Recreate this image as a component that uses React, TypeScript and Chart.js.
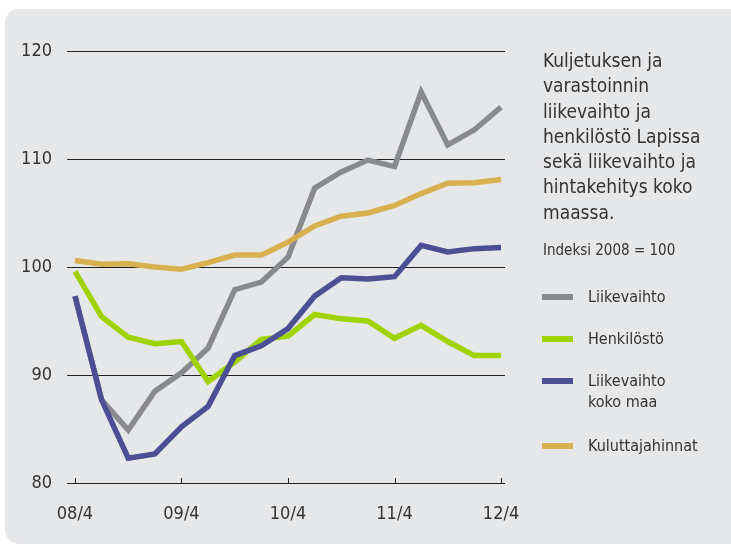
import React, { useEffect, useRef } from "react";
import { Chart, registerables } from "chart.js";

Chart.register(...registerables);

const quarters = [
  "08/4", "09/1", "09/2", "09/3", "09/4", "10/1", "10/2", "10/3", "10/4",
  "11/1", "11/2", "11/3", "11/4", "12/1", "12/2", "12/3", "12/4",
];
const xTickIndexes = [0, 4, 8, 12, 16];
const yTicks = [80, 90, 100, 110, 120];

const liikevaihto = [97.3, 87.7, 84.9, 88.5, 90.2, 92.5, 97.9, 98.6, 100.9, 107.3, 108.8, 109.9, 109.3, 116.2, 111.3, 112.7, 114.8];
const henkilosto = [99.6, 95.4, 93.5, 92.9, 93.1, 89.4, 91.2, 93.3, 93.6, 95.6, 95.2, 95.0, 93.4, 94.6, 93.1, 91.8, 91.8];
const liikevaihtoKokoMaa = [97.3, 87.7, 82.3, 82.7, 85.2, 87.1, 91.8, 92.7, 94.3, 97.3, 99.0, 98.9, 99.1, 102.0, 101.4, 101.7, 101.8];
const kuluttajahinnat = [100.6, 100.25, 100.3, 100.0, 99.8, 100.4, 101.1, 101.1, 102.3, 103.8, 104.7, 105.0, 105.7, 106.8, 107.75, 107.8, 108.1];

const titleLines = [
  "Kuljetuksen ja",
  "varastoinnin",
  "liikevaihto ja",
  "henkilöstö Lapissa",
  "sekä liikevaihto ja",
  "hintakehitys koko",
  "maassa.",
];
const subtitle = "Indeksi 2008 = 100";

const series = [
  { label: ["Liikevaihto"], data: liikevaihto, color: "#888a8d", order: 3 },
  { label: ["Henkilöstö"], data: henkilosto, color: "#9fd300", order: 2 },
  { label: ["Liikevaihto", "koko maa"], data: liikevaihtoKokoMaa, color: "#4b4f94", order: 1 },
  { label: ["Kuluttajahinnat"], data: kuluttajahinnat, color: "#d8b14f", order: 0 },
];

const FONT = "'Liberation Sans Narrow', 'DejaVu Sans Condensed', 'Roboto Condensed', sans-serif";
const TEXT = "#333333";

const tickMarksPlugin = {
  id: "tickMarks",
  afterDraw(chart: any) {
    const { ctx, scales, chartArea } = chart;
    const x = scales.x;
    ctx.save();
    ctx.strokeStyle = "#222222";
    ctx.lineWidth = 1;
    xTickIndexes.forEach((i) => {
      const px = Math.round(x.getPixelForValue(i)) + 0.5;
      ctx.beginPath();
      ctx.moveTo(px, chartArea.bottom);
      ctx.lineTo(px, chartArea.bottom - 5);
      ctx.stroke();
    });
    ctx.restore();
  },
};

function ChartCanvas() {
  const ref = useRef<HTMLCanvasElement | null>(null);
  useEffect(() => {
    if (!ref.current) return;
    const chart = new Chart(ref.current, {
      type: "line",
      data: {
        datasets: series.map((s) => ({
          label: s.label.join(" "),
          data: s.data.map((v, i) => ({ x: i, y: v })),
          borderColor: s.color,
          backgroundColor: s.color,
          borderWidth: 5.5,
          pointRadius: 0,
          tension: 0,
          borderJoinStyle: "miter" as const,
          borderCapStyle: "butt" as const,
          order: s.order,
        })),
      },
      options: {
        animation: false,
        responsive: false,
        maintainAspectRatio: false,
        layout: { padding: { top: 51, right: 226, bottom: 0, left: 0 } },
        plugins: { legend: { display: false }, tooltip: { enabled: false }, title: { display: false } },
        scales: {
          x: {
            type: "linear",
            min: -0.3,
            max: 16.15,
            afterBuildTicks: (scale: any) => {
              scale.ticks = xTickIndexes.map((v) => ({ value: v }));
            },
            afterFit: (scale: any) => {
              scale.height = 65;
            },
            grid: { display: false },
            border: { display: false },
            ticks: {
              autoSkip: false,
              maxRotation: 0,
              padding: 13,
              color: TEXT,
              font: { family: FONT, size: 18 },
              callback: (v: any) => quarters[v as number] ?? "",
            },
          },
          y: {
            min: 80,
            max: 120,
            afterBuildTicks: (scale: any) => {
              scale.ticks = yTicks.map((v) => ({ value: v }));
            },
            afterFit: (scale: any) => {
              scale.width = 67;
            },
            grid: { color: "#222222", lineWidth: 1, drawTicks: false },
            border: { display: false },
            ticks: {
              padding: 15,
              color: TEXT,
              font: { family: FONT, size: 18 },
            },
          },
        },
      },
      plugins: [tickMarksPlugin],
    } as any);
    return () => chart.destroy();
  }, []);
  return <canvas ref={ref} width={731} height={548} style={{ position: "absolute", left: 0, top: 0 }} />;
}

export default function App() {
  useEffect(() => {
    document.body.style.margin = "0";
    document.body.style.background = "#ffffff";
  }, []);
  return (
    <div style={{ position: "relative", width: 731, height: 548, overflow: "hidden", fontFamily: FONT, color: TEXT }}>
      <div
        style={{
          position: "absolute",
          left: 5,
          top: 9,
          width: 740,
          height: 535,
          background: "#e6e7e9",
          borderRadius: 14,
        }}
      />
      <ChartCanvas />
      <div style={{ position: "absolute", left: 543, top: 48, fontSize: 19, lineHeight: "25.3px" }}>
        {titleLines.map((t, i) => (
          <div key={i}>{t}</div>
        ))}
        <div style={{ fontSize: 15, lineHeight: "20px", marginTop: 15 }}>{subtitle}</div>
      </div>
      <div style={{ position: "absolute", left: 542, top: 286, fontSize: 16, lineHeight: "21px" }}>
        {series.map((s, i) => (
          <div key={i} style={{ display: "flex", alignItems: "flex-start", marginBottom: i === 2 ? 23 : 21 }}>
            <div style={{ width: 31, height: 6, background: s.color, marginTop: 8, marginRight: 15 }} />
            <div>
              {s.label.map((l, j) => (
                <div key={j}>{l}</div>
              ))}
            </div>
          </div>
        ))}
      </div>
    </div>
  );
}
